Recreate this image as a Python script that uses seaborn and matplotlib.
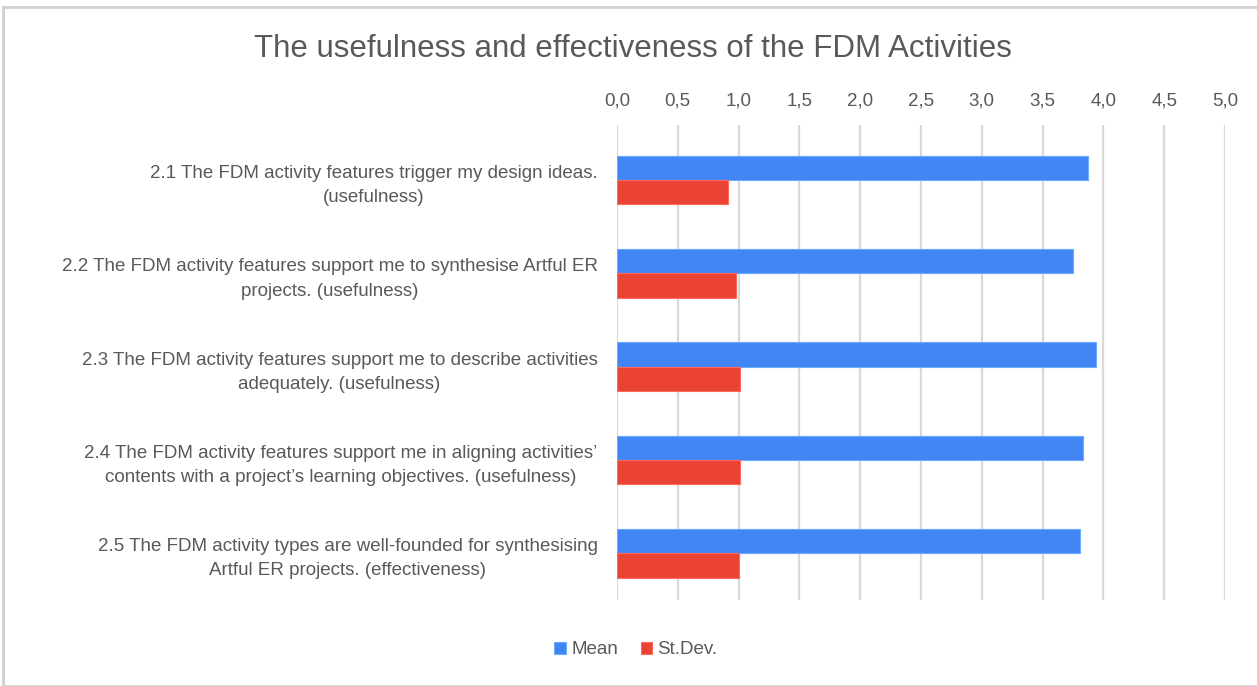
import matplotlib
matplotlib.use("Agg")
import matplotlib.pyplot as plt
import seaborn as sns
import pandas as pd
from matplotlib.patches import Rectangle
from matplotlib.ticker import FuncFormatter

categories = [
    "2.1 The FDM activity features trigger my design ideas.\n(usefulness)",
    "2.2 The FDM activity features support me to synthesise Artful ER\nprojects. (usefulness)",
    "2.3 The FDM activity features support me to describe activities\nadequately. (usefulness)",
    "2.4 The FDM activity features support me in aligning activities\u2019\ncontents with a project\u2019s learning objectives. (usefulness)",
    "2.5 The FDM activity types are well-founded for synthesising\nArtful ER projects. (effectiveness)",
]
mean_values = [3.87, 3.75, 3.94, 3.83, 3.81]
stdev_values = [0.91, 0.98, 1.01, 1.01, 1.00]
series_names = ["Mean", "St.Dev."]
title = "The usefulness and effectiveness of the FDM Activities"

df = pd.DataFrame({
    "category": categories * 2,
    "value": mean_values + stdev_values,
    "series": [series_names[0]] * len(categories) + [series_names[1]] * len(categories),
})

sns.set_theme(style="white")
FONT = ["Liberation Sans", "DejaVu Sans"]
plt.rcParams["font.family"] = FONT
TXT = "#595959"

fig = plt.figure(figsize=(12.57, 6.86), dpi=100)
ax = fig.add_axes([617 / 1257, 1 - 600 / 686, 608 / 1257, 475 / 686])

palette = {"Mean": "#4285F4", "St.Dev.": "#EA4335"}
sns.barplot(data=df, y="category", x="value", hue="series", order=categories,
            hue_order=series_names, palette=palette, orient="h", width=0.52,
            saturation=1, ax=ax, legend=True)
for p in ax.patches:
    p.set_linewidth(0.8)
    fc = p.get_facecolor()
    p.set_edgecolor((min(fc[0] + 0.15, 1), min(fc[1] + 0.15, 1), min(fc[2] + 0.15, 1), 1))

ax.set_xlim(0, 5)
ax.set_ylim(4.5, -0.59)
ax.set_xticks([i * 0.5 for i in range(11)])
ax.xaxis.set_major_formatter(FuncFormatter(lambda v, _: f"{v:.1f}".replace(".", ",")))
ax.xaxis.tick_top()
ax.tick_params(axis="x", length=0, pad=11, labelsize=13.5, labelcolor=TXT)
ax.tick_params(axis="y", length=0, pad=14, labelsize=13.5, labelcolor=TXT)
for lab in ax.get_yticklabels():
    lab.set_multialignment("center")
    lab.set_linespacing(1.55)
ax.set_xlabel("")
ax.set_ylabel("")
ax.grid(axis="x", color="#d9d9d9", linewidth=1.6)
ax.grid(axis="y", visible=False)
for s in ax.spines.values():
    s.set_visible(False)
ax.set_axisbelow(True)

leg = ax.legend(loc="center", bbox_to_anchor=(636 / 1257, 1 - 650 / 686),
                bbox_transform=fig.transFigure, ncol=2, frameon=False,
                fontsize=13.5, handlelength=0.6, handleheight=0.6,
                handletextpad=0.3, columnspacing=1.2)
for t in leg.get_texts():
    t.set_color(TXT)

fig.text(633 / 1257, 1 - 49 / 686, title, ha="center", va="center",
         fontsize=22.5, color=TXT)

fig.patches.append(Rectangle((3 / 1257, 0.0), 1.0, 1 - 7 / 686,
                             transform=fig.transFigure, fill=False,
                             edgecolor="#d0d0d0", linewidth=2))

fig.savefig("out.png", dpi=100, facecolor="white")
